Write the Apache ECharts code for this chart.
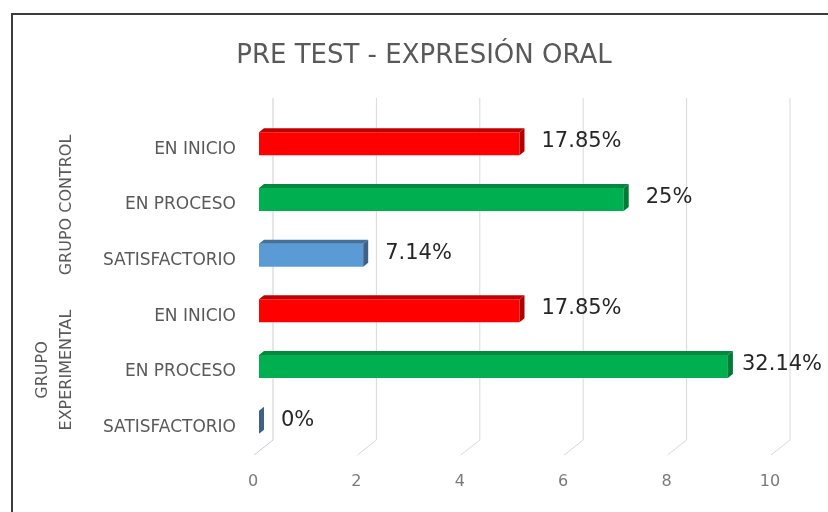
<!DOCTYPE html>
<html>
<head>
<meta charset="utf-8">
<title>PRE TEST - EXPRESIÓN ORAL</title>
<script src="https://cdn.jsdelivr.net/npm/echarts@6/dist/echarts.min.js"></script>
<style>
    html, body { margin: 0; padding: 0; background: #fff; }
    #chart { width: 828px; height: 512px; }
</style>
</head>
<body>
<div id="chart"></div>
<script>
// categorías de arriba hacia abajo
var categorias = ['EN INICIO', 'EN PROCESO', 'SATISFACTORIO', 'EN INICIO', 'EN PROCESO', 'SATISFACTORIO'];
var grupos = ['GRUPO CONTROL', 'GRUPO\nEXPERIMENTAL'];
// cantidad de alumnos (eje X) y su porcentaje
var valores = [5, 7, 2, 5, 9, 0];
var porcentajes = ['17.85%', '25%', '7.14%', '17.85%', '32.14%', '0%'];
var ticksX = [0, 2, 4, 6, 8, 10];

var FUENTE = '"DejaVu Sans", sans-serif';
var GRIS = '#595959';

// colores por nivel: frente, cara superior, lateral
var colores = {
    'EN INICIO': ['#ff0000', '#c00000', '#b00000'],
    'EN PROCESO': ['#00b050', '#008a3e', '#007a36'],
    'SATISFACTORIO': ['#5b9bd5', '#41719c', '#3e6185']
};

// barra con aspecto 3D (frente + tapa + lateral)
function dibujarBarra(params, api) {
    var idx = api.value(1);
    var ini = api.coord([0, idx]);
    var fin = api.coord([api.value(0), idx]);
    var h = api.size([0, 1])[1] * 0.485;
    var dx = 5, dy = 4;
    var y0 = ini[1] - h / 2, y1 = ini[1] + h / 2;
    var x0 = ini[0], x1 = fin[0];
    var c = colores[categorias[idx]];
    var hijos = [];
    if (x1 > x0) {
        hijos.push({ type: 'rect', shape: { x: x0, y: y0 + dy, width: x1 - x0, height: h - dy }, style: { fill: c[0] } });
        hijos.push({ type: 'polygon', shape: { points: [[x0, y0 + dy], [x0 + dx, y0], [x1 + dx, y0], [x1, y0 + dy]] }, style: { fill: c[1] } });
    }
    hijos.push({ type: 'polygon', shape: { points: [[x1, y0 + dy], [x1 + dx, y0], [x1 + dx, y1 - dy], [x1, y1]] }, style: { fill: c[2] } });
    // etiqueta de porcentaje (no se sale del gráfico)
    hijos.push({
        type: 'text',
        x: Math.min(x1 + 22, api.getWidth() - 86),
        y: ini[1],
        style: { text: porcentajes[idx], fill: '#262626', fontSize: 21, fontFamily: FUENTE, align: 'left', verticalAlign: 'middle' }
    });
    return { type: 'group', children: hijos };
}

// líneas de la pared del fondo con su diagonal hacia el piso
function dibujarGuia(params, api) {
    var arriba = api.coord([api.value(0), 1]);
    var abajo = api.coord([api.value(0), 0]);
    return {
        type: 'polyline',
        shape: { points: [arriba, abajo, [abajo[0] - 19, abajo[1] + 15]] },
        style: { stroke: params.dataIndex === 0 ? '#c9ced6' : '#d9d9d9', lineWidth: 1, fill: null }
    };
}

var chart = echarts.init(document.getElementById('chart'));

chart.setOption({
    backgroundColor: '#fff',
    animation: false,
    title: {
        text: 'PRE TEST - EXPRESIÓN ORAL',
        left: 419,
        textAlign: 'center',
        top: 38,
        textStyle: { color: GRIS, fontSize: 26, fontWeight: 'normal', fontFamily: FUENTE }
    },
    grid: [
        { left: 259, right: 48, top: 114, bottom: 64 },   // barras
        { left: 273, right: 38, top: 98, bottom: 72 },    // pared del fondo
        { left: 253, right: 58, top: 114, bottom: 57 }    // etiquetas del eje X
    ],
    xAxis: [
        { type: 'value', gridIndex: 0, min: 0, max: 10, interval: 2, show: false },
        { type: 'value', gridIndex: 1, min: 0, max: 10, interval: 2, show: false },
        {
            type: 'value', gridIndex: 2, min: 0, max: 10, interval: 2,
            axisLine: { show: false }, axisTick: { show: false }, splitLine: { show: false },
            axisLabel: { color: '#7a7a7a', fontSize: 16, fontFamily: FUENTE, margin: 19 }
        }
    ],
    yAxis: [
        {
            type: 'category', gridIndex: 0, inverse: true, data: categorias,
            axisLine: { show: false }, axisTick: { show: false }, splitLine: { show: false },
            // el texto queda un poco más abajo que la barra (perspectiva)
            axisLabel: { color: GRIS, fontSize: 17, fontFamily: FUENTE, margin: 23, verticalAlign: 'top', lineHeight: 15 }
        },
        { type: 'value', gridIndex: 1, min: 0, max: 1, show: false },
        { type: 'value', gridIndex: 2, min: 0, max: 1, show: false }
    ],
    series: [
        {
            type: 'custom',
            xAxisIndex: 1,
            yAxisIndex: 1,
            z: 1,
            silent: true,
            renderItem: dibujarGuia,
            data: ticksX.map(function (t) { return [t]; })
        },
        {
            type: 'custom',
            xAxisIndex: 0,
            yAxisIndex: 0,
            z: 3,
            renderItem: dibujarBarra,
            encode: { x: 0, y: 1 },
            data: valores.map(function (v, i) { return [v, i]; })
        }
    ],
    graphic: [
        {
            type: 'rect', silent: true, z: -1,
            shape: { x: 12, y: 14, width: 840, height: 520 },
            style: { fill: null, stroke: '#3c3c3c', lineWidth: 2 }
        },
        {
            type: 'text', x: 67, y: 205, rotation: Math.PI / 2,
            style: { text: grupos[0], fill: GRIS, fontSize: 16, fontFamily: FUENTE, align: 'center', verticalAlign: 'middle' }
        },
        {
            type: 'text', x: 55, y: 370, rotation: Math.PI / 2,
            style: { text: grupos[1], fill: GRIS, fontSize: 16, lineHeight: 24, fontFamily: FUENTE, align: 'center', verticalAlign: 'middle' }
        }
    ]
});
</script>
</body>
</html>
